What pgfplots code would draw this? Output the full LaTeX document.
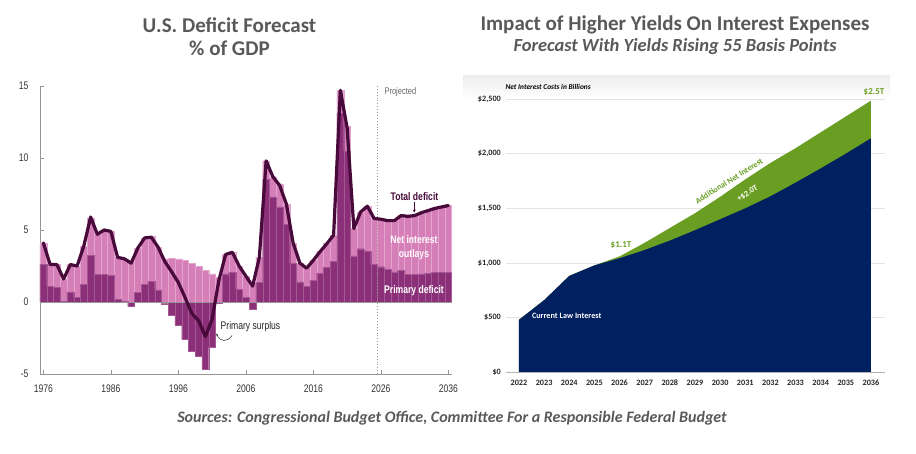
\documentclass[border=0pt]{standalone}
\usepackage{pgfplots}
\pgfplotsset{compat=1.18}
\usepackage{pgfplotstable}
\usetikzlibrary{arrows.meta}
\usepackage{fontspec}
\setmainfont{Carlito}
\newfontfamily\narrow[FakeStretch=0.78]{Liberation Sans}
\definecolor{pinkc}{RGB}{214,126,184}
\definecolor{darkc}{RGB}{139,48,120}
\definecolor{linec}{RGB}{72,10,58}
\definecolor{axisgray}{RGB}{150,150,150}
\definecolor{navyc}{RGB}{0,32,96}
\definecolor{greenc}{RGB}{106,158,35}
\definecolor{titlegray}{RGB}{89,89,89}

\pgfplotstableread{
year prim top total
1976 2.6 4.1 4.1
1977 1.1 2.6 2.6
1978 1.0 2.6 2.6
1979 0.05 1.6 1.6
1980 0.7 2.6 2.6
1981 0.3 2.5 2.5
1982 1.25 3.85 3.9
1983 3.25 5.85 5.9
1984 1.9 4.7 4.7
1985 1.9 5.0 5.0
1986 1.85 4.9 4.9
1987 0.2 3.1 3.1
1988 0.05 3.0 3.0
1989 -0.3 2.9 2.7
1990 0.65 3.75 3.75
1991 1.25 4.45 4.45
1992 1.45 4.55 4.5
1993 0.85 3.8 3.8
1994 -0.12 3.0 2.8
1995 -0.95 3.05 2.1
1996 -1.6 3.0 1.35
1997 -2.6 2.9 0.3
1998 -3.4 2.7 -0.8
1999 -3.75 2.5 -1.3
2000 -4.65 2.2 -2.4
2001 -3.15 1.95 -1.2
2002 -0.1 1.7 1.5
2003 1.95 3.3 3.3
2004 2.05 3.45 3.45
2005 0.9 2.5 2.5
2006 0.3 1.8 1.8
2007 -0.5 1.4 1.1
2008 1.35 3.1 3.1
2009 8.5 9.8 9.8
2010 7.3 8.7 8.7
2011 6.6 8.2 8.1
2012 5.4 6.8 6.8
2013 2.7 4.1 4.1
2014 1.4 2.7 2.7
2015 1.1 2.4 2.35
2016 1.5 2.9 2.9
2017 2.0 3.5 3.5
2018 2.4 4.05 4.05
2019 2.8 4.65 4.65
2020 13.1 14.7 14.7
2021 10.5 12.2 12.1
2022 3.2 5.1 5.1
2023 3.7 6.25 6.25
2024 3.5 6.65 6.65
2025 2.6 5.8 5.8
2026 2.45 5.75 5.75
2027 2.25 5.65 5.65
2028 2.1 5.65 5.65
2029 2.2 6.0 6.0
2030 1.9 5.95 5.95
2031 1.9 6.0 6.0
2032 1.95 6.2 6.2
2033 2.0 6.35 6.35
2034 2.05 6.5 6.5
2035 2.05 6.6 6.6
2036 2.05 6.7 6.7
}\leftdata

\pgfplotstableread{
year navy total
2022 480 480
2023 660 660
2024 882 882
2025 978 978
2026 1043 1060
2027 1119 1185
2028 1205 1320
2029 1300 1455
2030 1400 1605
2031 1500 1765
2032 1610 1915
2033 1735 2050
2034 1865 2195
2035 2000 2340
2036 2141 2485
}\rightdata

\begin{document}
\begin{tikzpicture}[x=1pt,y=1pt]
\path[use as bounding box, fill=white] (0,0) rectangle (916,453);

% titles
\node[font=\bfseries\fontsize{21}{22}\selectfont, text=titlegray] at (229.5,428) {U.S. Deficit Forecast};
\node[font=\bfseries\fontsize{21}{22}\selectfont, text=titlegray] at (229.5,405) {\% of GDP};
\node[font=\bfseries\fontsize{21}{22}\selectfont, text=titlegray] at (675,428) {Impact of Higher Yields On Interest Expenses};
\node[font=\bfseries\itshape\fontsize{18.5}{19}\selectfont, text=titlegray] at (675,406) {Forecast With Yields Rising 55 Basis Points};
\node[font=\bfseries\itshape\fontsize{16}{17}\selectfont, text=titlegray] at (452,35) {Sources: Congressional Budget Office, Committee For a Responsible Federal Budget};

% ---------------- left chart
\begin{axis}[
  at={(40pt,79pt)}, anchor=south west, scale only axis,
  width=411.75pt, height=288pt,
  xmin=1975.5, xmax=2036.5, ymin=-5, ymax=15,
  axis lines*=left,
  axis line style={draw=axisgray, line width=0.8pt},
  xtick={1976,1986,1996,2006,2016,2026,2036},
  ytick={-5,0,5,10,15},
  tick align=inside, major tick length=4pt,
  tick style={draw=axisgray, line width=0.7pt},
  /pgf/number format/.cd, 1000 sep={}, assume math mode=true, /pgfplots/.cd,
  xticklabel style={font=\narrow\fontsize{11}{11}\selectfont, text=black!80, yshift=-7pt},
  yticklabel style={font=\narrow\fontsize{11}{11}\selectfont, text=black!80, xshift=-8pt},
]
\addplot[ybar, bar width=1, bar shift=0pt, fill=pinkc, draw=pinkc!70!white, line width=0.4pt] table[x=year, y=top] {\leftdata};
\addplot[ybar, bar width=1, bar shift=0pt, fill=darkc, draw=darkc!80!white, line width=0.4pt] table[x=year, y=prim] {\leftdata};
\draw[axisgray, line width=0.8pt] (axis cs:1975.5,0) -- (axis cs:2036.5,0);
\draw[axisgray, dotted, line width=0.9pt] (axis cs:2025.5,-5) -- (axis cs:2025.5,15);
\addplot[linec, line width=3.2pt, line join=round, line cap=round] table[x=year, y=total] {\leftdata};
\end{axis}

\node[font=\narrow\fontsize{9.6}{10}\selectfont, text=black!60, anchor=west] at (381,361.3) {Projected};
\node[font=\narrow\bfseries\fontsize{11}{11}\selectfont, text=linec] at (414.5,256.5) {Total deficit};
\draw[linec, line width=0.6pt, -{Stealth[length=3pt,width=3pt]}] (414.3,250.5) -- (414.3,240.5);
\node[font=\narrow\bfseries\fontsize{11}{11}\selectfont, text=white] at (414,213) {Net interest};
\node[font=\narrow\bfseries\fontsize{11}{11}\selectfont, text=white] at (414,198.7) {outlays};
\node[font=\narrow\bfseries\fontsize{11}{11}\selectfont, text=white] at (414,162.3) {Primary deficit};
\node[font=\narrow\fontsize{11}{11}\selectfont, text=black!85] at (250.5,126.5) {Primary surplus};
\draw[black!70, line width=0.6pt, -{Stealth[length=2.5pt,width=2.5pt]}] (232,117.5) .. controls (228,111) and (220,110.5) .. (216.5,119.5);

% ---------------- right chart
\shade[top color=gray!14, bottom color=white] (463,377) rectangle (890,354);
\begin{axis}[
  at={(506.4pt,80.7pt)}, anchor=south west, scale only axis,
  width=378.4pt, height=273.3pt,
  xmin=2021.5, xmax=2036.55, ymin=0, ymax=2500,
  axis line style={draw=none},
  major tick length=0pt,
  xtick={2022,2023,...,2036},
  ytick={0,500,1000,1500,2000,2500},
  yticklabels={\$0,\$500,{\$1,000},{\$1,500},{\$2,000},{\$2,500}},
  ymajorgrids, grid style={gray!22, line width=0.7pt},
  /pgf/number format/.cd, 1000 sep={}, assume math mode=true, /pgfplots/.cd,
  xticklabel style={font=\bfseries\fontsize{8.2}{9}\selectfont, text=black!85, yshift=-4pt},
  yticklabel style={font=\bfseries\fontsize{8.2}{9}\selectfont, text=black!85, xshift=-2pt},
]
\addplot[fill=greenc, draw=none] table[x=year, y=total] {\rightdata} \closedcycle;
\addplot[fill=navyc, draw=none] table[x=year, y=navy] {\rightdata} \closedcycle;
\draw[gray!60, line width=0.8pt] (axis cs:2021.5,0) -- (axis cs:2036.55,0);
\end{axis}

\node[font=\bfseries\itshape\fontsize{7.4}{8}\selectfont, anchor=west] at (502,366.3) {Net Interest Costs in Billions};
\node[font=\bfseries\fontsize{9}{9}\selectfont, text=greenc] at (621,208) {\$1.1T};
\node[font=\bfseries\fontsize{9}{9}\selectfont, text=greenc] at (874,361) {\$2.5T};
\node[font=\bfseries\fontsize{8.2}{9}\selectfont, text=white] at (566.7,137.3) {Current Law Interest};
\node[font=\bfseries\fontsize{8.2}{9}\selectfont, text=greenc, rotate=32, inner sep=1pt] at (729,272) {Additional Net Interest};
\node[font=\bfseries\fontsize{8.2}{9}\selectfont, text=white, rotate=32, inner sep=1pt] at (747.5,259.5) {+\$2.0T};
\end{tikzpicture}
\end{document}
